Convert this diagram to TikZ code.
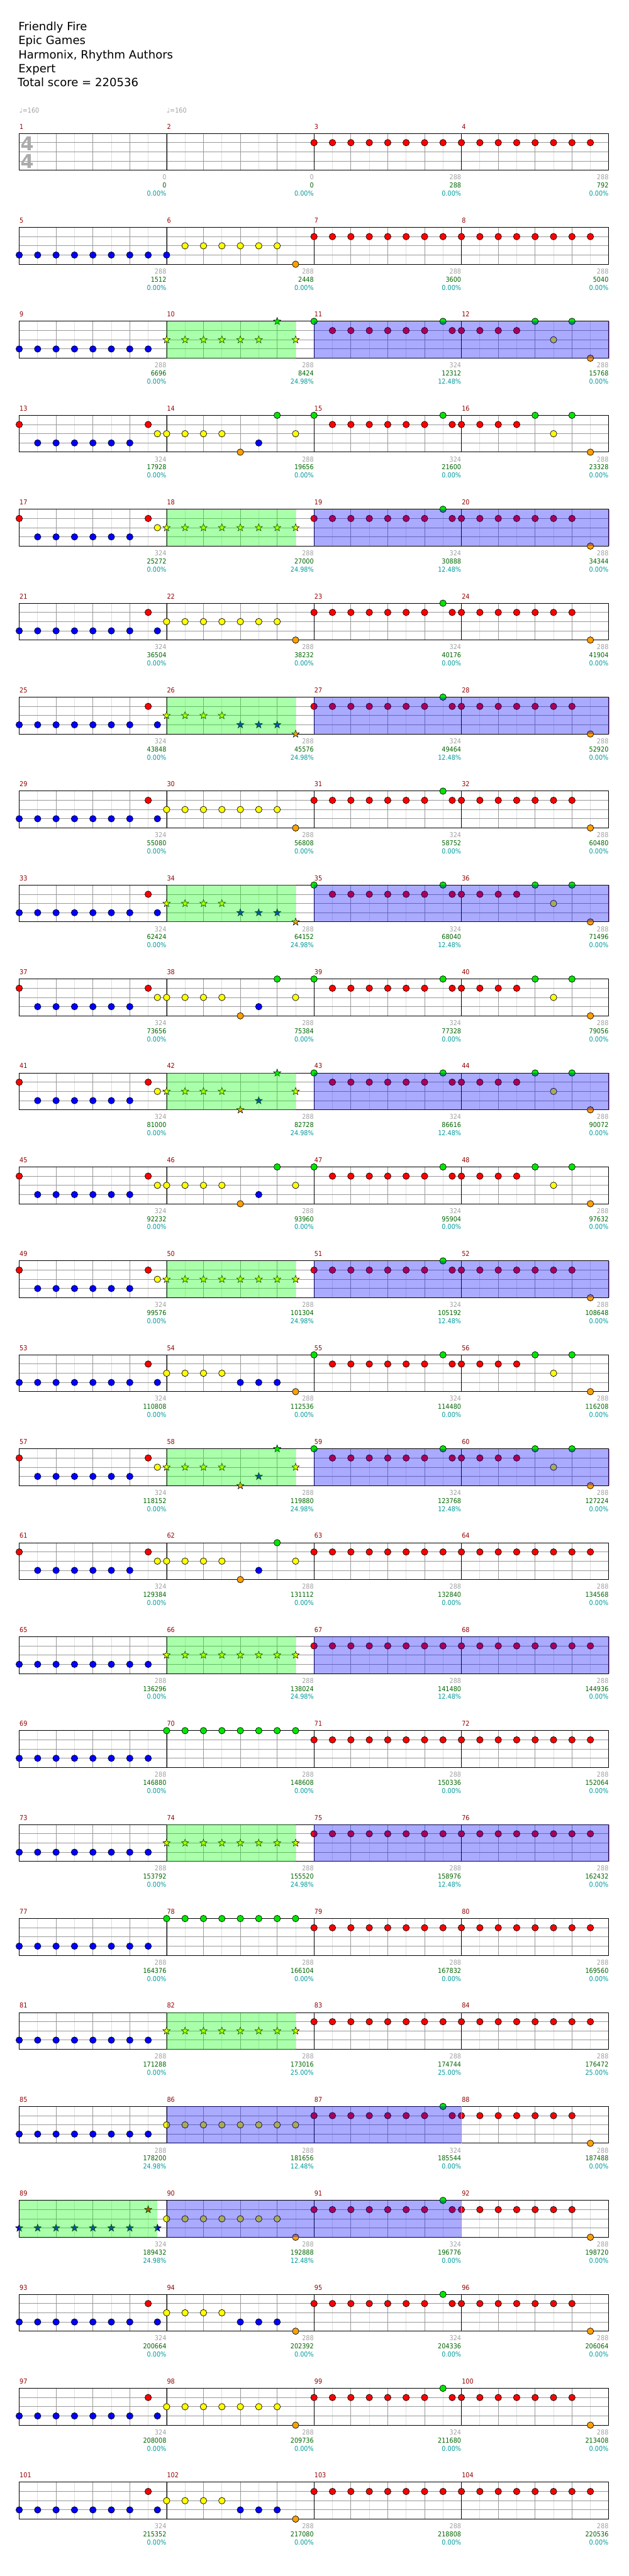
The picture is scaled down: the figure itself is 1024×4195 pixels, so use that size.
\documentclass[tikz,border=0pt]{standalone}
\usepackage{fontspec}
\setmainfont{DejaVu Sans}
\newfontfamily\numfont{DejaVu Sans Condensed}
\usetikzlibrary{positioning}

% drum lanes: green, red, yellow, blue, orange (kick)
\definecolor{lane0}{RGB}{0,230,0}
\definecolor{lane1}{RGB}{255,0,0}
\definecolor{lane2}{RGB}{255,255,0}
\definecolor{lane3}{RGB}{0,0,255}
\definecolor{lane4}{RGB}{255,160,0}
\definecolor{barred}{RGB}{150,0,0}
\definecolor{ptsgrey}{RGB}{160,160,160}
\definecolor{totgreen}{RGB}{0,100,0}
\definecolor{pctteal}{RGB}{0,153,153}

\tikzset{
    %Define grid lines
    offline/.style={draw=black!13, line width=0.9pt},
    beatline/.style={draw=black!40, line width=0.9pt},
    barline/.style={draw=black, line width=0.8pt},
    %Define style for drum hits
    hit/.style={draw=black, line width=0.7pt, fill=#1},
    % Define overlays for star power and overdrive
    spzone/.style={fill=green, fill opacity=0.333},
    odzone/.style={fill=blue, fill opacity=0.333},
    % Define text styles
    head/.style={font=\fontsize{18.5}{18.5}\selectfont, inner sep=0pt, anchor=base west},
    tall/.style={font=\numfont\fontsize{11}{11}\selectfont, inner sep=0pt, anchor=base east}
}

% staff of four bars, top edge at y=0
\newcommand\staffrow[1]{%
  \foreach \kk in {1,...,31} \draw[offline] (31.3+30*\kk,0) -- (31.3+30*\kk,60);
  \foreach \kk in {15,30,45} \draw[beatline] (31.3,\kk) -- (991.3,\kk);
  \foreach \kk in {1,...,15} \draw[beatline] (31.3+60*\kk,0) -- (31.3+60*\kk,60);
  \foreach \kk in {1,2,3} \draw[barline] (31.3+240*\kk,0) -- (31.3+240*\kk,60);
  \draw[line width=1pt] (31.3,0) rectangle (991.3,60);
  \foreach \kk in {0,...,3}{
    \pgfmathtruncatemacro\barnr{#1+\kk}
    \node[tall, anchor=base west, text=barred] (bar\barnr) at (31.8+240*\kk,-7.3) {\barnr};}
}
% single hits: position (16ths) / lane
\newcommand\hits[1]{\foreach \pos/\lanenr in {#1} \filldraw[hit=lane\lanenr] (31.3+15*\pos,15*\lanenr) circle (5.3);}
% evenly spaced hits on one lane
\newcommand\hitrun[4]{\foreach \pos in {#2,#3,...,#4} \filldraw[hit=lane#1] (31.3+15*\pos,15*#1) circle (5.3);}
% star power notes
\newcommand\spstars[1]{\foreach \pos/\lanenr in {#1}
  \filldraw[hit=lane\lanenr, line width=0.6pt, shift={(31.3+15*\pos,15*\lanenr)}]
    (-90:6.3) -- (-54:2.6) -- (-18:6.3) -- (18:2.6) -- (54:6.3) -- (90:2.6)
    -- (126:6.3) -- (162:2.6) -- (198:6.3) -- (234:2.6) -- cycle;}
\newcommand\spband[2]{\fill[spzone] (31.3+15*#1,0) rectangle (31.3+15*#2,60);}
\newcommand\odband[2]{\fill[odzone] (31.3+15*#1,0) rectangle (31.3+15*#2,60);
  \draw[red!55, line width=0.8pt] (31.3+15*#2,0) -- (31.3+15*#2,60);}
% second half grooves
\newcommand\grooveA{\hitrun{1}{32}{34}{44}\hits{46/0,47/1}\hitrun{1}{48}{50}{60}\hits{62/4}}
\newcommand\grooveB{\hits{32/0}\hitrun{1}{34}{36}{44}\hits{46/0,47/1}\hitrun{1}{48}{50}{54}\hits{56/0,58/2,60/0,62/4}}
% bar points / running total / percent
\newcommand\scoreline[2]{%
  \foreach \pts/\tot/\pct [count=\kk from 0] in {#2}{
    \pgfmathtruncatemacro\barnr{#1+\kk}
    \node[tall, text=ptsgrey] (pts\barnr) at (271+240*\kk,75.5) {\pts};
    \node[tall, text=totgreen] (tot\barnr) at (271+240*\kk,88.7) {\tot};
    \node[tall, text=pctteal] (pct\barnr) at (271+240*\kk,101.9) {\pct\%};}
}

\begin{document}
\begin{tikzpicture}[x=1pt,y=-1pt]
  \useasboundingbox (0,0) rectangle (1024,4195);
  % song header
  \node[head] (title) at (29.8,49.3) {Friendly Fire};
  \node[head] (artist) at (29.8,72.3) {Epic Games};
  \node[head] (charter) at (29.8,95.3) {Harmonix, Rhythm Authors};
  \node[head] (level) at (29.8,118.3) {Expert};
  \node[head] (total) at (28.5,141.3) {Total score = 220536};

  % bars 1-4
  \begin{scope}[shift={(0,217.3)}]
    \staffrow{1}
    \node[tall, anchor=base west, text=ptsgrey] (tempo1) at (31.3,-33) {{\normalfont ♩}=160};
    \node[tall, anchor=base west, text=ptsgrey] (tempo2) at (271.3,-33) {{\normalfont ♩}=160};
    \node[font=\bfseries\fontsize{31}{31}\selectfont, text=black!33, inner sep=0pt] (sigtop) at (44.3,16.5) {4};
    \node[font=\bfseries\fontsize{31}{31}\selectfont, text=black!33, inner sep=0pt] (sigbot) at (44.3,45.5) {4};
    \hitrun{1}{32}{34}{62}
    \scoreline{1}{0/0/0.00, 0/0/0.00, 288/288/0.00, 288/792/0.00}
  \end{scope}

  % bars 5-8
  \begin{scope}[shift={(0,217.3+153*1)}]
    \staffrow{5}
    \hitrun{3}{0}{2}{16} \hitrun{2}{18}{20}{28} \hits{30/4}
    \hitrun{1}{32}{34}{62}
    \scoreline{5}{288/1512/0.00, 288/2448/0.00, 288/3600/0.00, 288/5040/0.00}
  \end{scope}

  % bars 9-12
  \begin{scope}[shift={(0,217.3+153*2)}]
    \staffrow{9}
    \hitrun{3}{0}{2}{14}
    \spstars{16/2,18/2,20/2,22/2,24/2,26/2,28/0,30/2}
    \grooveB
    \spband{16}{30} \odband{32}{64}
    \scoreline{9}{288/6696/0.00, 288/8424/24.98, 324/12312/12.48, 288/15768/0.00}
  \end{scope}

  % bars 13-16
  \begin{scope}[shift={(0,217.3+153*3)}]
    \staffrow{13}
    \hits{0/1} \hitrun{3}{2}{4}{12} \hits{14/1,15/2} \hitrun{2}{16}{18}{22}
    \hits{24/4,26/3,28/0,30/2}
    \grooveB
    \scoreline{13}{324/17928/0.00, 288/19656/0.00, 324/21600/0.00, 288/23328/0.00}
  \end{scope}

  % bars 17-20
  \begin{scope}[shift={(0,217.3+153*4)}]
    \staffrow{17}
    \hits{0/1} \hitrun{3}{2}{4}{12} \hits{14/1,15/2}
    \spstars{16/2,18/2,20/2,22/2,24/2,26/2,28/2,30/2}
    \grooveA
    \spband{16}{30} \odband{32}{64}
    \scoreline{17}{324/25272/0.00, 288/27000/24.98, 324/30888/12.48, 288/34344/0.00}
  \end{scope}

  % bars 21-24
  \begin{scope}[shift={(0,217.3+153*5)}]
    \staffrow{21}
    \hitrun{3}{0}{2}{12} \hits{14/1,15/3} \hitrun{2}{16}{18}{28} \hits{30/4}
    \grooveA
    \scoreline{21}{324/36504/0.00, 288/38232/0.00, 324/40176/0.00, 288/41904/0.00}
  \end{scope}

  % bars 25-28
  \begin{scope}[shift={(0,217.3+153*6)}]
    \staffrow{25}
    \hitrun{3}{0}{2}{12} \hits{14/1,15/3}
    \spstars{16/2,18/2,20/2,22/2,24/3,26/3,28/3,30/4}
    \grooveA
    \spband{16}{30} \odband{32}{64}
    \scoreline{25}{324/43848/0.00, 288/45576/24.98, 324/49464/12.48, 288/52920/0.00}
  \end{scope}

  % bars 29-32
  \begin{scope}[shift={(0,217.3+153*7)}]
    \staffrow{29}
    \hitrun{3}{0}{2}{12} \hits{14/1,15/3} \hitrun{2}{16}{18}{28} \hits{30/4}
    \grooveA
    \scoreline{29}{324/55080/0.00, 288/56808/0.00, 324/58752/0.00, 288/60480/0.00}
  \end{scope}

  % bars 33-36
  \begin{scope}[shift={(0,217.3+153*8)}]
    \staffrow{33}
    \hitrun{3}{0}{2}{12} \hits{14/1,15/3}
    \spstars{16/2,18/2,20/2,22/2,24/3,26/3,28/3,30/4}
    \grooveB
    \spband{16}{30} \odband{32}{64}
    \scoreline{33}{324/62424/0.00, 288/64152/24.98, 324/68040/12.48, 288/71496/0.00}
  \end{scope}

  % bars 37-40
  \begin{scope}[shift={(0,217.3+153*9)}]
    \staffrow{37}
    \hits{0/1} \hitrun{3}{2}{4}{12} \hits{14/1,15/2} \hitrun{2}{16}{18}{22}
    \hits{24/4,26/3,28/0,30/2}
    \grooveB
    \scoreline{37}{324/73656/0.00, 288/75384/0.00, 324/77328/0.00, 288/79056/0.00}
  \end{scope}

  % bars 41-44
  \begin{scope}[shift={(0,217.3+153*10)}]
    \staffrow{41}
    \hits{0/1} \hitrun{3}{2}{4}{12} \hits{14/1,15/2}
    \spstars{16/2,18/2,20/2,22/2,24/4,26/3,28/0,30/2}
    \grooveB
    \spband{16}{30} \odband{32}{64}
    \scoreline{41}{324/81000/0.00, 288/82728/24.98, 324/86616/12.48, 288/90072/0.00}
  \end{scope}

  % bars 45-48
  \begin{scope}[shift={(0,217.3+153*11)}]
    \staffrow{45}
    \hits{0/1} \hitrun{3}{2}{4}{12} \hits{14/1,15/2} \hitrun{2}{16}{18}{22}
    \hits{24/4,26/3,28/0,30/2}
    \grooveB
    \scoreline{45}{324/92232/0.00, 288/93960/0.00, 324/95904/0.00, 288/97632/0.00}
  \end{scope}

  % bars 49-52
  \begin{scope}[shift={(0,217.3+153*12)}]
    \staffrow{49}
    \hits{0/1} \hitrun{3}{2}{4}{12} \hits{14/1,15/2}
    \spstars{16/2,18/2,20/2,22/2,24/2,26/2,28/2,30/2}
    \grooveA
    \spband{16}{30} \odband{32}{64}
    \scoreline{49}{324/99576/0.00, 288/101304/24.98, 324/105192/12.48, 288/108648/0.00}
  \end{scope}

  % bars 53-56
  \begin{scope}[shift={(0,217.3+153*13)}]
    \staffrow{53}
    \hitrun{3}{0}{2}{12} \hits{14/1,15/3} \hitrun{2}{16}{18}{22}
    \hitrun{3}{24}{26}{28} \hits{30/4}
    \grooveB
    \scoreline{53}{324/110808/0.00, 288/112536/0.00, 324/114480/0.00, 288/116208/0.00}
  \end{scope}

  % bars 57-60
  \begin{scope}[shift={(0,217.3+153*14)}]
    \staffrow{57}
    \hits{0/1} \hitrun{3}{2}{4}{12} \hits{14/1,15/2}
    \spstars{16/2,18/2,20/2,22/2,24/4,26/3,28/0,30/2}
    \grooveB
    \spband{16}{30} \odband{32}{64}
    \scoreline{57}{324/118152/0.00, 288/119880/24.98, 324/123768/12.48, 288/127224/0.00}
  \end{scope}

  % bars 61-64
  \begin{scope}[shift={(0,217.3+153*15)}]
    \staffrow{61}
    \hits{0/1} \hitrun{3}{2}{4}{12} \hits{14/1,15/2} \hitrun{2}{16}{18}{22}
    \hits{24/4,26/3,28/0,30/2}
    \hitrun{1}{32}{34}{62}
    \scoreline{61}{324/129384/0.00, 288/131112/0.00, 288/132840/0.00, 288/134568/0.00}
  \end{scope}

  % bars 65-68
  \begin{scope}[shift={(0,217.3+153*16)}]
    \staffrow{65}
    \hitrun{3}{0}{2}{14}
    \spstars{16/2,18/2,20/2,22/2,24/2,26/2,28/2,30/2}
    \hitrun{1}{32}{34}{62}
    \spband{16}{30} \odband{32}{64}
    \scoreline{65}{288/136296/0.00, 288/138024/24.98, 288/141480/12.48, 288/144936/0.00}
  \end{scope}

  % bars 69-72
  \begin{scope}[shift={(0,217.3+153*17)}]
    \staffrow{69}
    \hitrun{3}{0}{2}{14} \hitrun{0}{16}{18}{30}
    \hitrun{1}{32}{34}{62}
    \scoreline{69}{288/146880/0.00, 288/148608/0.00, 288/150336/0.00, 288/152064/0.00}
  \end{scope}

  % bars 73-76
  \begin{scope}[shift={(0,217.3+153*18)}]
    \staffrow{73}
    \hitrun{3}{0}{2}{14}
    \spstars{16/2,18/2,20/2,22/2,24/2,26/2,28/2,30/2}
    \hitrun{1}{32}{34}{62}
    \spband{16}{30} \odband{32}{64}
    \scoreline{73}{288/153792/0.00, 288/155520/24.98, 288/158976/12.48, 288/162432/0.00}
  \end{scope}

  % bars 77-80
  \begin{scope}[shift={(0,217.3+153*19)}]
    \staffrow{77}
    \hitrun{3}{0}{2}{14} \hitrun{0}{16}{18}{30}
    \hitrun{1}{32}{34}{62}
    \scoreline{77}{288/164376/0.00, 288/166104/0.00, 288/167832/0.00, 288/169560/0.00}
  \end{scope}

  % bars 81-84
  \begin{scope}[shift={(0,217.3+153*20)}]
    \staffrow{81}
    \hitrun{3}{0}{2}{14}
    \spstars{16/2,18/2,20/2,22/2,24/2,26/2,28/2,30/2}
    \hitrun{1}{32}{34}{62}
    \spband{16}{30}
    \scoreline{81}{288/171288/0.00, 288/173016/25.00, 288/174744/25.00, 288/176472/25.00}
  \end{scope}

  % bars 85-88
  \begin{scope}[shift={(0,217.3+153*21)}]
    \staffrow{85}
    \hitrun{3}{0}{2}{14} \hitrun{2}{16}{18}{30}
    \grooveA
    \odband{16}{48}
    \scoreline{85}{288/178200/24.98, 288/181656/12.48, 324/185544/0.00, 288/187488/0.00}
  \end{scope}

  % bars 89-92
  \begin{scope}[shift={(0,217.3+153*22)}]
    \staffrow{89}
    \spstars{0/3,2/3,4/3,6/3,8/3,10/3,12/3,14/1,15/3}
    \hitrun{2}{16}{18}{28} \hits{30/4}
    \grooveA
    \spband{0}{15} \odband{16}{48}
    \scoreline{89}{324/189432/24.98, 288/192888/12.48, 324/196776/0.00, 288/198720/0.00}
  \end{scope}

  % bars 93-96
  \begin{scope}[shift={(0,217.3+153*23)}]
    \staffrow{93}
    \hitrun{3}{0}{2}{12} \hits{14/1,15/3} \hitrun{2}{16}{18}{22}
    \hitrun{3}{24}{26}{28} \hits{30/4}
    \grooveA
    \scoreline{93}{324/200664/0.00, 288/202392/0.00, 324/204336/0.00, 288/206064/0.00}
  \end{scope}

  % bars 97-100
  \begin{scope}[shift={(0,217.3+153*24)}]
    \staffrow{97}
    \hitrun{3}{0}{2}{12} \hits{14/1,15/3} \hitrun{2}{16}{18}{28} \hits{30/4}
    \grooveA
    \scoreline{97}{324/208008/0.00, 288/209736/0.00, 324/211680/0.00, 288/213408/0.00}
  \end{scope}

  % bars 101-104
  \begin{scope}[shift={(0,217.3+153*25)}]
    \staffrow{101}
    \hitrun{3}{0}{2}{12} \hits{14/1,15/3} \hitrun{2}{16}{18}{22}
    \hitrun{3}{24}{26}{28} \hits{30/4}
    \hitrun{1}{32}{34}{62}
    \scoreline{101}{324/215352/0.00, 288/217080/0.00, 288/218808/0.00, 288/220536/0.00}
  \end{scope}
\end{tikzpicture}
\end{document}
